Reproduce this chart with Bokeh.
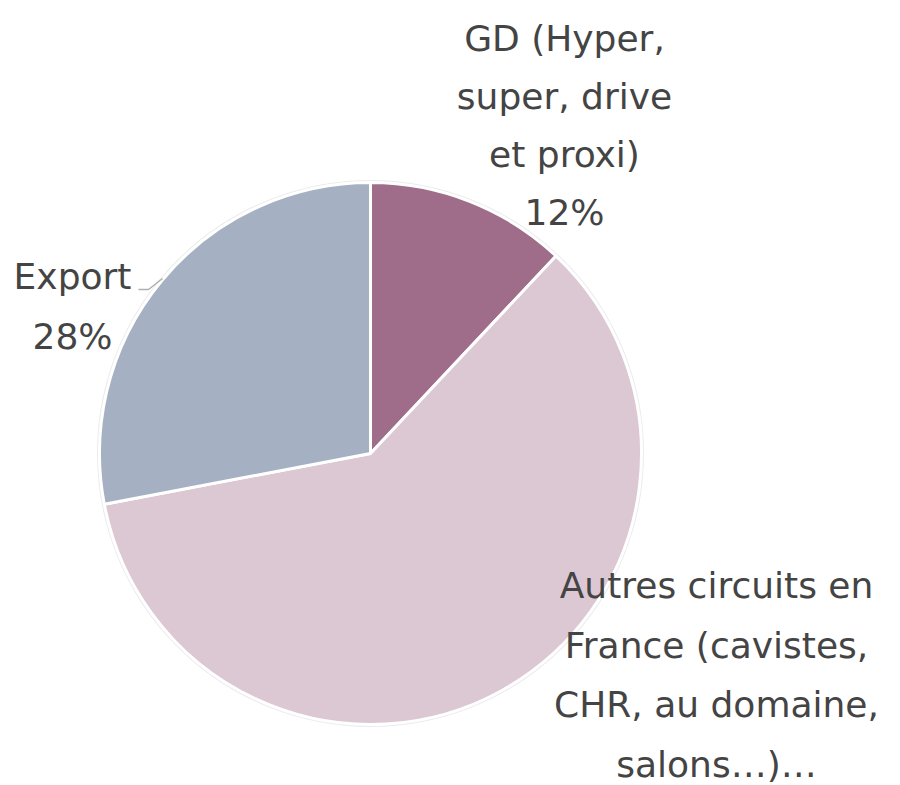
import numpy as np
from bokeh.plotting import figure
from bokeh.models import Range1d, ColumnDataSource
from bokeh.core.properties import value
from bokeh.embed import file_html
from bokeh.resources import INLINE

categories = ["GD (Hyper, super, drive et proxi)",
              "Autres circuits en France (cavistes, CHR, au domaine, salons…)…",
              "Export"]
shares = [12, 60, 28]
colors = ["#9f6d89", "#dcc8d3", "#a5b1c2"]

W, H = 900, 785
p = figure(width=W, height=H, output_backend="svg", toolbar_location=None,
           x_range=Range1d(0, W), y_range=Range1d(0, H), min_border=0)
p.axis.visible = False
p.grid.visible = False
p.outline_line_color = None
p.background_fill_color = "white"

cx, cy, R = 370, 332, 271
frac = np.array(shares, dtype=float) / sum(shares)
cum = np.concatenate([[0], np.cumsum(frac)])
start = np.pi / 2 - cum[:-1] * 2 * np.pi
end = np.pi / 2 - cum[1:] * 2 * np.pi

p.circle(x=[cx], y=[cy], radius=R + 1.5, fill_color=None, line_color="#ececec", line_width=2)
src = ColumnDataSource(dict(start=start, end=end, color=colors, cat=categories))
p.wedge(x=cx, y=cy, radius=R, start_angle="start", end_angle="end", direction="clock",
        fill_color="color", line_color="white", line_width=3, source=src)

# leader line for Export
p.line(x=[138, 148, 162], y=[496, 496, 507], line_color="#b0b0b0", line_width=1.5)

def put(lines, x, y0, step):
    xs = [x] * len(lines)
    ys = [y0 - i * step for i in range(len(lines))]
    p.text(x=xs, y=ys, text=lines, text_align="center", text_baseline="middle",
           text_font=value("DejaVu Sans"), text_font_size="36px", text_color="#444444")

gd_lines = ["GD (Hyper,", "super, drive", "et proxi)", f"{shares[0]}%"]
au_lines = ["Autres circuits en", "France (cavistes,", "CHR, au domaine,", "salons…)…"]
ex_lines = ["Export", f"{shares[2]}%"]

put(gd_lines, 564, 747, 58)
put(au_lines, 716, 200, 59.5)
put(ex_lines, 72, 509, 60)

open("out.html", "w").write(file_html(p, INLINE))
